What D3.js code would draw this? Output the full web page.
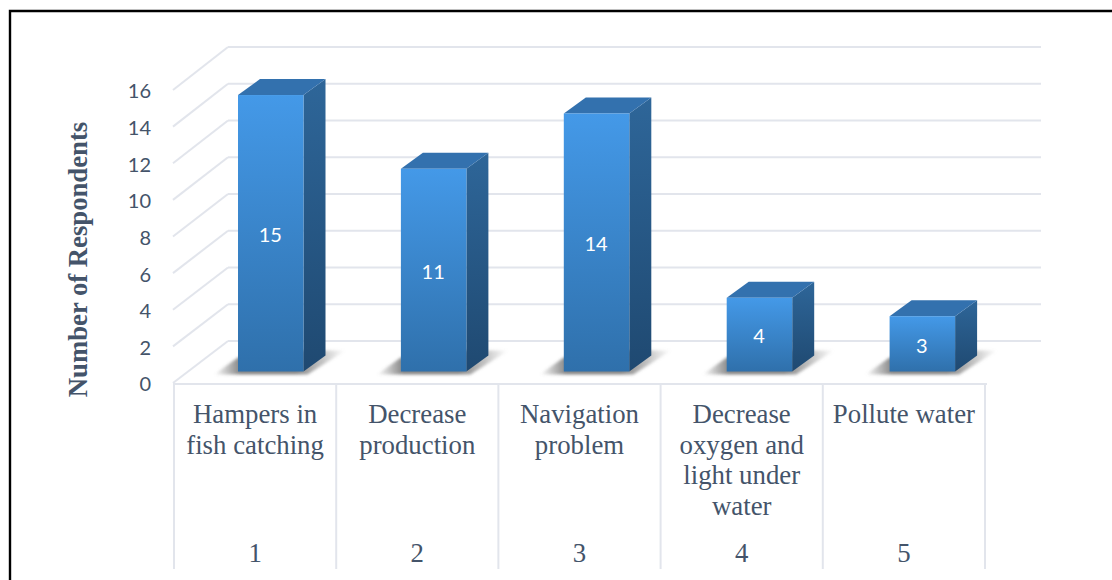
<!DOCTYPE html>
<html><head><meta charset="utf-8">
<script src="https://cdn.jsdelivr.net/npm/d3@7"></script>
<style>html,body{margin:0;padding:0;background:#fff}svg{display:block}</style>
</head><body><svg id="c" width="1112" height="580"></svg>
<script>
const categories = [["Hampers in","fish catching"],["Decrease","production"],["Navigation","problem"],["Decrease","oxygen and","light under","water"],["Pollute water"]];
const levelLabels = ["1","2","3","4","5"];
const values = [15,11,14,4,3];
const ticks = [0,2,4,6,8,10,12,14,16];

const svg = d3.select("#c");
const textCol = "#44546a", gridCol = "#e2e5ec";
const depthX = 22, depthY = 16;

const yBar = d3.scaleLinear().domain([0,16]).range([371.5,76.6]);
const yBack = d3.scaleLinear().domain([0,16]).range([341,47]);
const yFront = d3.scaleLinear().domain([0,16]).range([383,90]);
const xBar = d3.scaleBand().domain(levelLabels).range([189.3,1003.8]);
const xCell = d3.scaleBand().domain(levelLabels).range([174,985]);
const barW = 65.5;

const defs = svg.append("defs");
function grad(id, stops, horiz){
  const g = defs.append("linearGradient").attr("id",id).attr("x1",0).attr("y1",0)
    .attr("x2",horiz?1:0).attr("y2",horiz?0:1);
  stops.forEach(s=>g.append("stop").attr("offset",s[0]).attr("stop-color",s[1]).attr("stop-opacity",s[2]===undefined?1:s[2]));
}
grad("front",[[0,"#4499e8"],[1,"#2f70ab"]]);
grad("side",[[0,"#2e6699"],[1,"#1f4971"]]);
grad("shadow",[[0,"#666",0],[0.2,"#666",0.8],[0.62,"#666",0.8],[0.82,"#777",0.45],[1,"#888",0]],true);
defs.append("filter").attr("id","blur").attr("x","-20%").attr("y","-40%").attr("width","140%").attr("height","180%")
  .append("feGaussianBlur").attr("stdDeviation",1.6);

// frame
svg.append("path").attr("d","M10,580V11H1112").attr("fill","none").attr("stroke","#000").attr("stroke-width",2.4);

// back wall gridlines and slanted side wall lines
svg.append("g").selectAll("line").data(ticks).join("line")
  .attr("x1",228).attr("x2",1041).attr("y1",d=>yBack(d)).attr("y2",d=>yBack(d))
  .attr("stroke",gridCol).attr("stroke-width",2);
svg.append("g").selectAll("line").data(ticks).join("line")
  .attr("x1",173).attr("x2",228).attr("y1",d=>yFront(d)).attr("y2",d=>yBack(d))
  .attr("stroke",gridCol).attr("stroke-width",2);

// category table
const table = svg.append("g").attr("stroke",gridCol).attr("stroke-width",2);
table.append("line").attr("x1",173).attr("x2",987).attr("y1",384).attr("y2",384);
const edges = levelLabels.map(l=>xCell(l)).concat([xCell.range()[1]]);
table.selectAll("line.v").data(edges).join("line").attr("class","v")
  .attr("x1",d=>d).attr("x2",d=>d).attr("y1",384).attr("y2",569);

const serif = "'Liberation Serif','Times New Roman',serif";
const catG = svg.append("g").attr("font-family",serif).attr("font-size",26.8).attr("fill",textCol).attr("text-anchor","middle");
categories.forEach((lines,i)=>{
  const cx = xCell(levelLabels[i]) + xCell.bandwidth()/2;
  lines.forEach((t,j)=>catG.append("text").attr("x",cx).attr("y",423+j*30.7).text(t));
  catG.append("text").attr("x",cx).attr("y",562).text(levelLabels[i]);
});

// y axis labels
const axis = svg.append("g").attr("transform","translate(151,1.5)")
  .call(d3.axisLeft(yFront).tickValues(ticks).tickSize(0).tickPadding(0));
axis.select(".domain").remove();
axis.selectAll("text").attr("font-family","Lato,'Open Sans',sans-serif").attr("font-size",20).attr("fill",textCol);

svg.append("text").attr("transform","translate(87,259.5) rotate(-90)")
  .attr("text-anchor","middle").attr("font-family",serif).attr("font-weight","bold")
  .attr("font-size",26.7).attr("fill",textCol).text("Number of Respondents");

// bars
const bars = svg.append("g").selectAll("g").data(values).join("g");
const x0 = (d,i)=>xBar(levelLabels[i])+xBar.bandwidth()/2-barW/2;
bars.append("path").attr("fill","url(#shadow)").attr("filter","url(#blur)")
  .attr("d",(d,i)=>{const x=x0(d,i),b=yBar(0);
    return `M${x-24},${b+3}L${x+barW+4},${b+3}L${x+barW+42},${b-21}L${x+barW},${b-21}L${x},${b-14}Z`;});
bars.append("path").attr("fill","url(#side)")
  .attr("d",(d,i)=>{const x=x0(d,i)+barW,t=yBar(d),b=yBar(0);
    return `M${x},${t}L${x+depthX},${t-depthY}L${x+depthX},${b-depthY}L${x},${b}Z`;});
bars.append("path").attr("fill","#3371ae")
  .attr("d",(d,i)=>{const x=x0(d,i),t=yBar(d);
    return `M${x},${t}L${x+depthX},${t-depthY}L${x+barW+depthX},${t-depthY}L${x+barW},${t}Z`;});
bars.append("rect").attr("fill","url(#front)")
  .attr("x",x0).attr("y",d=>yBar(d)).attr("width",barW).attr("height",d=>yBar(0)-yBar(d));
bars.append("text").attr("x",(d,i)=>x0(d,i)+barW/2-0.5).attr("y",d=>(yBar(d)+yBar(0))/2+1.5)
  .attr("dy","0.36em").attr("text-anchor","middle").attr("font-family","Lato,'Open Sans',sans-serif")
  .attr("font-size",20).attr("fill","#fff").text(d=>d);
</script></body></html>
